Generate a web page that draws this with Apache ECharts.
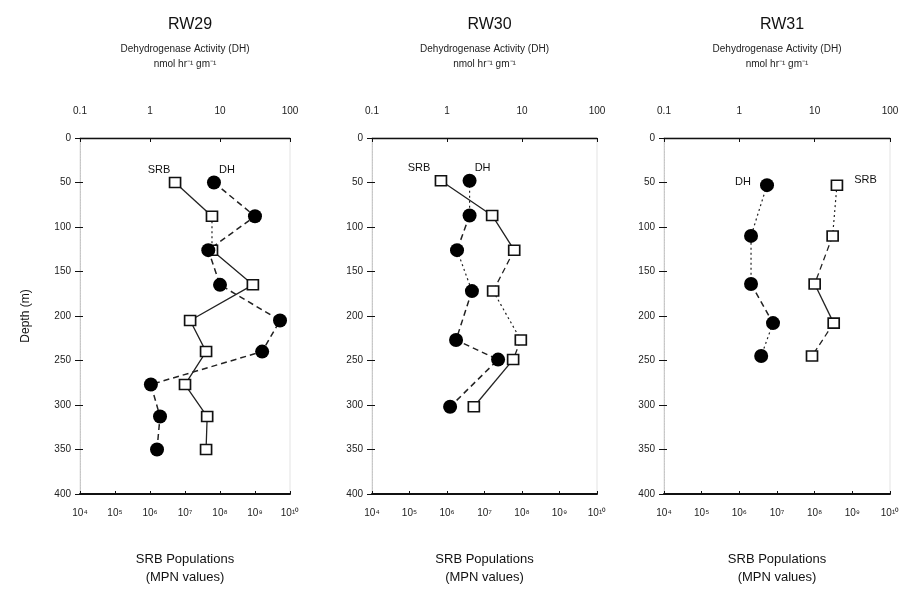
<!DOCTYPE html>
<html>
<head>
<meta charset="utf-8">
<script src="https://cdn.jsdelivr.net/npm/echarts@6/dist/echarts.min.js"></script>
<style>
html,body{margin:0;padding:0;background:#fff;}
#chart{width:922px;height:591px;}
</style>
</head>
<body>
<div id="chart"></div>
<script>
// ---- data ----
const panelTitles = ['RW29', 'RW30', 'RW31'];
const dhTickLabels = ['0.1', '1', '10', '100'];
const srbTickLabels = ['10⁴', '10⁵', '10⁶', '10⁷', '10⁸', '10⁹', '10¹⁰'];
const depthTicks = [0, 50, 100, 150, 200, 250, 300, 350, 400];

const rw29Depth = [50, 88, 126, 165, 205, 240, 277, 313, 350];
const rw29SRB = [5.2e6, 5.9e7, 5.9e7, 8.7e8, 1.4e7, 4.0e7, 1.0e7, 4.3e7, 4.0e7];
const rw29DH = [8.2, 31.6, 6.8, 10, 72, 40, 1.03, 1.39, 1.26];

const rw30Depth = [48, 87, 126, 172, 227, 249, 302];
const rw30SRB = [6.9e5, 1.6e7, 6.2e7, 1.7e7, 9.3e7, 5.8e7, 5.2e6];
const rw30DH = [2.0, 2.0, 1.36, 2.15, 1.32, 4.8, 1.1];

const rw31Depth = [53, 110, 164, 208, 245];
const rw31SRB = [3.9e8, 3.0e8, 1.0e8, 3.2e8, 8.5e7];
const rw31DH = [2.33, 1.43, 1.43, 2.8, 1.95];

// ---- layout & styles ----
const FONT = '"Liberation Sans", Arial, Helvetica, sans-serif';
const grids = [
  {left: 80, width: 210},
  {left: 372, width: 225},
  {left: 664, width: 226}
];
const gridTop = 138, gridBottom = 84;
const LS = {s: 'solid', d: [6, 4], o: [2, 3]};

const panels = [
  {depth: rw29Depth, srb: rw29SRB, dh: rw29DH,
   srbSeg: 'sosssssso', dhSeg: 'ddddddddo',
   srbLab: {position: 'top', offset: [-16, 4]}, dhLab: {position: 'top', offset: [13, 5]}},
  {depth: rw30Depth, srb: rw30SRB, dh: rw30DH,
   srbSeg: 'ssdods', dhSeg: 'ododdd',
   srbLab: {position: 'top', offset: [-22, 4]}, dhLab: {position: 'top', offset: [13, 5]}},
  {depth: rw31Depth, srb: rw31SRB, dh: rw31DH,
   srbSeg: 'odsd', dhSeg: 'oodo',
   srbLab: {position: 'right', offset: [6, -5]}, dhLab: {position: 'left', offset: [-4, -3]}}
];

const option = {
  backgroundColor: '#fff',
  animation: false,
  textStyle: {fontFamily: FONT, color: '#111'},
  title: [],
  grid: [],
  xAxis: [],
  yAxis: [],
  series: []
};

function log10i(v) { return Math.round(Math.log(v) / Math.LN10); }

grids.forEach((g, i) => {
  option.title.push({
    text: panelTitles[i],
    left: g.left + g.width / 2, top: 12, textAlign: 'center',
    textStyle: {fontFamily: FONT, fontSize: 16, fontWeight: 'normal', color: '#111'}
  });
  option.grid.push({
    left: g.left, width: g.width, top: gridTop, bottom: gridBottom,
    show: true, borderColor: '#d0d0d0', borderWidth: 0.6
  });
  option.xAxis.push({
    type: 'log', logBase: 10, min: 0.1, max: 100, gridIndex: i, position: 'top',
    axisLine: {show: true, onZero: false, lineStyle: {color: '#111', width: 1.3}},
    axisTick: {show: true, inside: true, length: 4, lineStyle: {color: '#111'}},
    minorTick: {show: false},
    splitLine: {show: false},
    axisLabel: {
      margin: 22, fontSize: 10, color: '#222', fontFamily: FONT,
      formatter: v => dhTickLabels[log10i(v) + 1]
    },
    name: 'Dehydrogenase Activity (DH)\nnmol hr⁻¹ gm⁻¹',
    nameLocation: 'middle', nameGap: 66,
    nameTextStyle: {fontSize: 10, color: '#222', fontFamily: FONT, lineHeight: 15}
  });
  option.xAxis.push({
    type: 'log', logBase: 10, min: 1e4, max: 1e10, gridIndex: i, position: 'bottom',
    axisLine: {show: true, onZero: false, lineStyle: {color: '#111', width: 2}},
    axisTick: {show: true, inside: true, length: 3, lineStyle: {color: '#111'}},
    splitLine: {show: false},
    axisLabel: {
      margin: 14, fontSize: 10, color: '#222', fontFamily: FONT,
      formatter: v => srbTickLabels[log10i(v) - 4]
    },
    name: 'SRB Populations\n(MPN values)',
    nameLocation: 'middle', nameGap: 56,
    nameTextStyle: {fontSize: 13, color: '#111', fontFamily: FONT, lineHeight: 18}
  });
  option.yAxis.push({
    type: 'value', inverse: true, min: 0, max: 400, interval: 50, gridIndex: i,
    axisLine: {show: true, onZero: false, lineStyle: {color: '#bbb', width: 0.8, type: 'dotted'}},
    axisTick: {show: true, length: 5, lineStyle: {color: '#111'}},
    splitLine: {show: false},
    axisLabel: {fontSize: 10, color: '#222', fontFamily: FONT, margin: 9,
      formatter: v => depthTicks.indexOf(v) >= 0 ? String(v) : ''},
    name: i === 0 ? 'Depth (m)' : '',
    nameLocation: 'middle', nameGap: 48, nameRotate: 90,
    nameTextStyle: {fontSize: 12, color: '#111', fontFamily: FONT}
  });
});

// inner tick marks of the depth axes (cross ticks)
grids.forEach((g, i) => {
  option.yAxis.push({
    type: 'value', inverse: true, min: 0, max: 400, interval: 50, gridIndex: i,
    position: 'left',
    axisLine: {show: false, onZero: false},
    axisTick: {show: true, inside: true, length: 3, lineStyle: {color: '#111'}},
    axisLabel: {show: false},
    splitLine: {show: false}
  });
});

// connecting segments, one series per run of identical line style
function addSegments(xs, depth, seg, xAxisIndex, yAxisIndex, width) {
  let start = 0;
  for (let k = 1; k <= seg.length; k++) {
    if (k === seg.length || seg[k] !== seg[start]) {
      const pts = [];
      for (let j = start; j <= k; j++) pts.push([xs[j], depth[j]]);
      option.series.push({
        type: 'line', xAxisIndex, yAxisIndex, data: pts, showSymbol: false,
        symbol: 'none', silent: true,
        lineStyle: {color: '#222', width: seg[start] === 'o' ? 1.2 : width, type: LS[seg[start]]},
        z: 2
      });
      start = k;
    }
  }
}

grids.forEach((g, i) => {
  const p = panels[i];
  addSegments(p.srb, p.depth, p.srbSeg, 2 * i + 1, i, 1.3);
  addSegments(p.dh, p.depth, p.dhSeg, 2 * i, i, 1.5);

  const srbData = p.depth.map((d, k) => k === 0
    ? {value: [p.srb[k], d], label: Object.assign({show: true, formatter: 'SRB', fontSize: 11, color: '#111', fontFamily: FONT}, p.srbLab)}
    : [p.srb[k], d]);
  const dhData = p.depth.map((d, k) => k === 0
    ? {value: [p.dh[k], d], label: Object.assign({show: true, formatter: 'DH', fontSize: 11, color: '#111', fontFamily: FONT}, p.dhLab)}
    : [p.dh[k], d]);

  option.series.push({
    type: 'line', name: 'SRB', xAxisIndex: 2 * i + 1, yAxisIndex: i,
    data: srbData, symbol: 'rect', symbolSize: [11, 10],
    itemStyle: {color: '#fff', borderColor: '#111', borderWidth: 1.6},
    lineStyle: {width: 0, opacity: 0},
    z: 3
  });
  option.series.push({
    type: 'line', name: 'DH', xAxisIndex: 2 * i, yAxisIndex: i,
    data: dhData, symbol: 'circle', symbolSize: 14,
    itemStyle: {color: '#000', borderColor: '#000', borderWidth: 0},
    lineStyle: {width: 0, opacity: 0},
    z: 4
  });
});

const chart = echarts.init(document.getElementById('chart'), null, {renderer: 'canvas'});
chart.setOption(option);
</script>
</body>
</html>
